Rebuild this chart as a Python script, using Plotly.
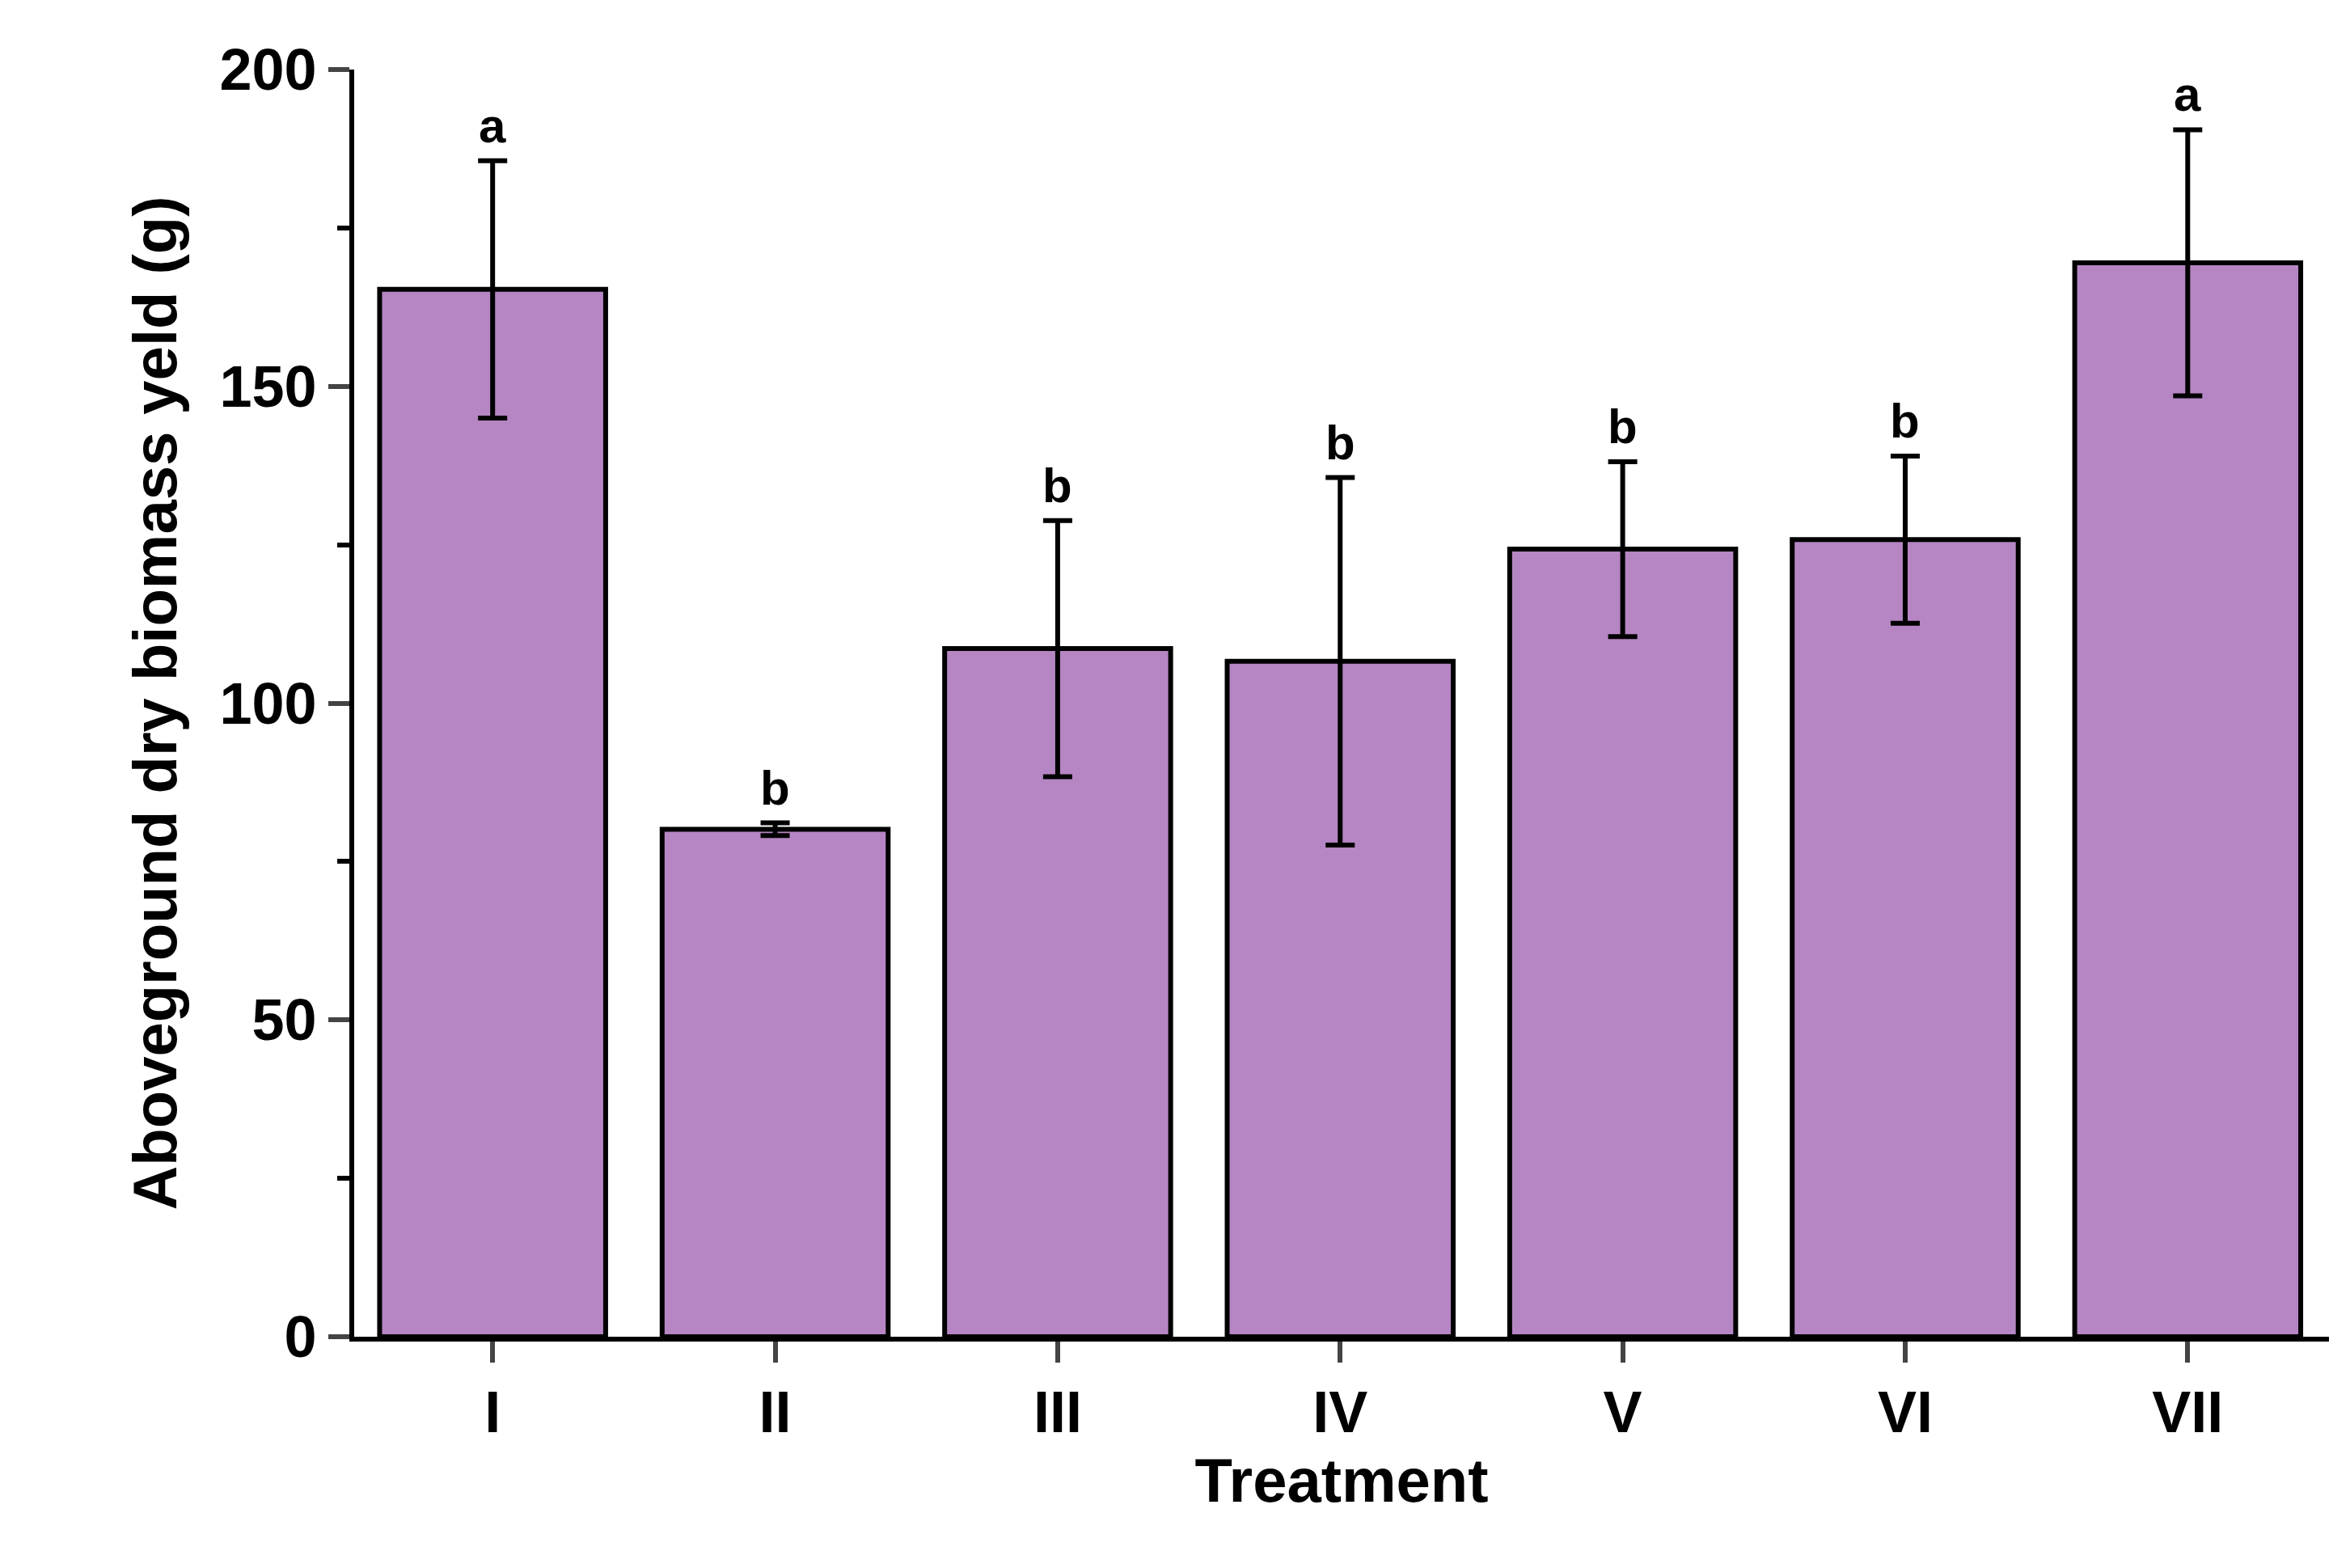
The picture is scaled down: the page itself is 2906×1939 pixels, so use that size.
import plotly.graph_objects as go

treatments = ["I", "II", "III", "IV", "V", "VI", "VII"]
means = [165.3, 80.1, 108.6, 106.6, 124.3, 125.8, 169.5]
errors = [20.3, 1.0, 20.2, 29.0, 13.8, 13.2, 21.0]
letters = ["a", "b", "b", "b", "b", "b", "a"]

FONT = "Liberation Sans"
fig = go.Figure(go.Bar(
    x=list(range(len(treatments))), y=means, width=0.8,
    marker=dict(color="#B586C3", line=dict(color="black", width=6)),
    error_y=dict(type="data", array=errors, visible=True, color="black", thickness=6, width=18),
))
for i, (m, e, l) in enumerate(zip(means, errors, letters)):
    fig.add_annotation(x=i, y=m + e, text=f"<b>{l}</b>", showarrow=False, yanchor="bottom", yshift=8,
                       font=dict(family=FONT, size=60, color="black"))
fig.update_layout(
    width=2906, height=1939, plot_bgcolor="white", paper_bgcolor="white",
    margin=dict(l=430, r=34, t=78, b=294), showlegend=False,
    font=dict(family=FONT, color="black"),
)
fig.update_xaxes(range=[-0.49, 6.5], tickmode="array", tickvals=list(range(len(treatments))),
                 ticktext=[f"<b>{t}</b>" for t in treatments], tickfont=dict(size=72),
                 ticks="outside", ticklen=26, tickwidth=6, showline=True, linewidth=6, linecolor="black",
                 showgrid=False, title=dict(text="<b>Treatment</b>", font=dict(size=76), standoff=20))
fig.update_yaxes(range=[0, 200], tickvals=[0, 50, 100, 150, 200],
                 ticktext=["<b>0</b>", "<b>50</b>", "<b>100</b>", "<b>150</b>", "<b>200</b>"],
                 tickfont=dict(size=72), ticks="outside", ticklen=26, tickwidth=6,
                 minor=dict(dtick=25, ticks="outside", ticklen=15, tickwidth=6, tickcolor="black"),
                 showline=True, linewidth=6, linecolor="black", showgrid=False, zeroline=False,
                 title=dict(text="<b>Aboveground dry biomass yeld (g)</b>", font=dict(size=76), standoff=30))
fig.write_html("out.html")
